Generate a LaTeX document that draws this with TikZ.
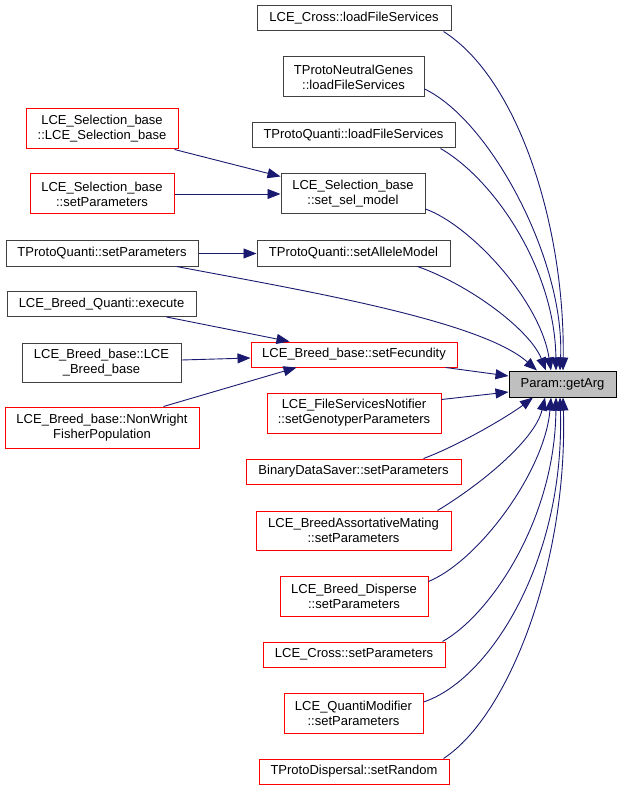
\documentclass[tikz,border=0pt]{standalone}
\usepackage{fontspec}
\setmainfont{Liberation Sans}
\usetikzlibrary{arrows.meta,calc}
\definecolor{edgeblue}{RGB}{25,25,112}
\definecolor{boxgray}{RGB}{64,64,64}
\definecolor{boxred}{RGB}{255,0,0}
\definecolor{rootfill}{RGB}{191,191,191}
\begin{document}
\begin{tikzpicture}[x=1pt,y=-1pt,
  box/.style={draw=boxgray, line width=1pt, fill=white, inner sep=0pt, align=center,
              font=\fontsize{13}{15}\selectfont},
  redbox/.style={box, draw=boxred},
  rootbox/.style={box, fill=rootfill},
  edge/.style={draw=edgeblue, line width=0.9pt, -{Triangle[length=13pt,width=10pt]}}
]
\useasboundingbox (0,0) rectangle (621,791);

% right column (callers of getArg)
\node[box, minimum width=194pt, minimum height=25pt] (crosslfs) at (354,18.5) {LCE\_Cross::loadFileServices};
\node[box, minimum width=141pt, minimum height=40pt] (tpng) at (353.5,77) {TProtoNeutralGenes\\::loadFileServices};
\node[box, minimum width=203pt, minimum height=25pt] (tpqlfs) at (353.5,135.5) {TProtoQuanti::loadFileServices};
\node[box, minimum width=144pt, minimum height=40pt] (selmodel) at (353,194) {LCE\_Selection\_base\\::set\_sel\_model};
\node[box, minimum width=193pt, minimum height=25pt] (allele) at (353.5,253.5) {TProtoQuanti::setAlleleModel};
\node[redbox, minimum width=206pt, minimum height=25pt] (fecund) at (354,354.5) {LCE\_Breed\_base::setFecundity};
\node[redbox, minimum width=174pt, minimum height=40pt] (fsn) at (354,413) {LCE\_FileServicesNotifier\\::setGenotyperParameters};
\node[redbox, minimum width=215pt, minimum height=25pt] (bds) at (353.5,471.5) {BinaryDataSaver::setParameters};
\node[redbox, minimum width=195pt, minimum height=39pt] (bam) at (353.5,530.5) {LCE\_BreedAssortativeMating\\::setParameters};
\node[redbox, minimum width=148pt, minimum height=40pt] (bdisp) at (354,596) {LCE\_Breed\_Disperse\\::setParameters};
\node[redbox, minimum width=182pt, minimum height=25pt] (crosssp) at (354,654.5) {LCE\_Cross::setParameters};
\node[redbox, minimum width=139pt, minimum height=40pt] (qmod) at (353.5,713) {LCE\_QuantiModifier\\::setParameters};
\node[redbox, minimum width=190pt, minimum height=25pt] (setrandom) at (354,771.5) {TProtoDispersal::setRandom};

% left column
\node[redbox, minimum width=152pt, minimum height=40pt] (selbase) at (102,129) {LCE\_Selection\_base\\::LCE\_Selection\_base};
\node[redbox, minimum width=144pt, minimum height=40pt] (selparam) at (102,194) {LCE\_Selection\_base\\::setParameters};
\node[box, minimum width=192pt, minimum height=25pt] (tpqsp) at (102,253.5) {TProtoQuanti::setParameters};
\node[box, minimum width=189pt, minimum height=25pt] (bqexec) at (101.5,304) {LCE\_Breed\_Quanti::execute};
\node[box, minimum width=159pt, minimum height=39pt] (bbbb) at (101.5,362.5) {LCE\_Breed\_base::LCE\\\_Breed\_base};
\node[redbox, minimum width=194pt, minimum height=41pt] (nonwright) at (102,427.5) {LCE\_Breed\_base::NonWright\\FisherPopulation};

% root
\node[rootbox, draw=black, minimum width=107pt, minimum height=26pt] (getarg) at (562.5,384) {Param::getArg};

% left edges
\draw[edge] ($(selbase.south east)+(-4,0)$) -- ($(selmodel.north west)+(0,3)$);
\draw[edge] (selparam.east) -- (selmodel.west);
\draw[edge] (tpqsp.east) -- (allele.west);
\draw[edge] ($(bqexec.south east)+(-30,0)$) -- ($(fecund.north west)+(39,0)$);
\draw[edge] ($(bbbb.east)+(0,-2.5)$) -- ($(fecund.west)+(0,3.5)$);
\draw[edge] ($(nonwright.north east)+(-36,0)$) -- ($(fecund.south west)+(46,0)$);

% edges into getArg from above
\draw[edge] ($(crosslfs.south east)+(-8,0)$) .. controls (520,80) and (565,230) .. ($(getarg.north)+(0.5,0)$);
\draw[edge] ($(tpng.east)+(0,12)$) .. controls (490,120) and (565,260) .. ($(getarg.north)+(-2.5,0)$);
\draw[edge] ($(tpqlfs.south east)+(-15,0)$) .. controls (495,180) and (555,270) .. ($(getarg.north)+(-6.5,0)$);
\draw[edge] ($(selmodel.east)+(0,15)$) .. controls (470,225) and (540,300) .. ($(getarg.north)+(-11.5,0)$);
\draw[edge] ($(allele.south east)+(-33,0)$) .. controls (470,285) and (530,330) .. ($(getarg.north)+(-16.5,0)$);
\draw[edge] ($(tpqsp.south east)+(-22,0)$) .. controls (300,290) and (480,320) .. ($(getarg.north)+(-25.5,0)$);

% straight edges into getArg
\draw[edge] ($(fecund.south east)+(-12,0)$) -- ($(getarg.west)+(0,-8)$);
\draw[edge] ($(fsn.north east)+(0,7)$) -- ($(getarg.west)+(0,8)$);

% edges into getArg from below
\draw[edge] ($(bds.north east)+(-38,0)$) .. controls (460,445) and (510,415) .. ($(getarg.south)+(-29.5,0)$);
\draw[edge] ($(bam.north east)+(-14,0)$) .. controls (480,485) and (535,440) .. ($(getarg.south)+(-17.5,0)$);
\draw[edge] ($(bdisp.north east)+(0,6)$) .. controls (480,560) and (545,470) .. ($(getarg.south)+(-11.5,0)$);
\draw[edge] ($(crosssp.north east)+(-3,0)$) .. controls (490,615) and (555,520) .. ($(getarg.south)+(-6.5,0)$);
\draw[edge] ($(qmod.east)+(0,-11)$) .. controls (490,680) and (565,560) .. ($(getarg.south)+(-2.5,0)$);
\draw[edge] ($(setrandom.north east)+(-6,0)$) .. controls (510,715) and (568,560) .. ($(getarg.south)+(0.5,0)$);
\end{tikzpicture}
\end{document}
